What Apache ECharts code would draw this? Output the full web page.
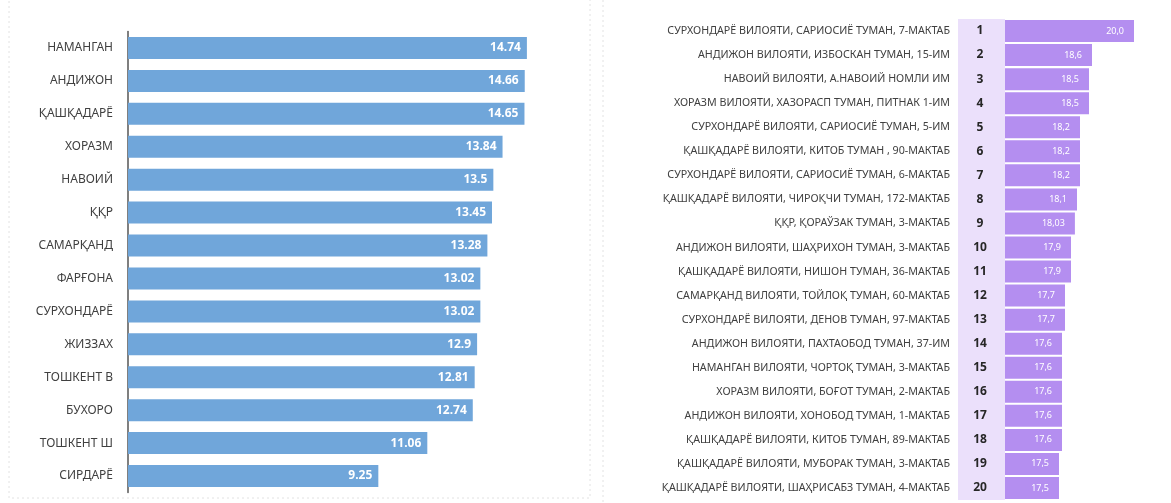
<!DOCTYPE html>
<html>
<head>
<meta charset="utf-8">
<script src="https://cdn.jsdelivr.net/npm/echarts@6/dist/echarts.min.js"></script>
<style>html,body{margin:0;padding:0;background:#fff;}#c{width:1171px;height:503px;}</style>
</head>
<body>
<div id="c"></div>
<script>
const regions = ['НАМАНГАН','АНДИЖОН','ҚАШҚАДАРЁ','ХОРАЗМ','НАВОИЙ','ҚҚР','САМАРҚАНД','ФАРҒОНА','СУРХОНДАРЁ','ЖИЗЗАХ','ТОШКЕНТ В','БУХОРО','ТОШКЕНТ Ш','СИРДАРЁ'];
const regionValues = [14.74,14.66,14.65,13.84,13.5,13.45,13.28,13.02,13.02,12.9,12.81,12.74,11.06,9.25];

const schools = [
 'СУРХОНДАРЁ ВИЛОЯТИ, САРИОСИЁ ТУМАН, 7-МАКТАБ',
 'АНДИЖОН ВИЛОЯТИ, ИЗБОСКАН ТУМАН, 15-ИМ',
 'НАВОИЙ ВИЛОЯТИ, А.НАВОИЙ НОМЛИ ИМ',
 'ХОРАЗМ ВИЛОЯТИ, ХАЗОРАСП ТУМАН, ПИТНАК 1-ИМ',
 'СУРХОНДАРЁ ВИЛОЯТИ, САРИОСИЁ ТУМАН, 5-ИМ',
 'ҚАШҚАДАРЁ ВИЛОЯТИ, КИТОБ ТУМАН , 90-МАКТАБ',
 'СУРХОНДАРЁ ВИЛОЯТИ, САРИОСИЁ ТУМАН, 6-МАКТАБ',
 'ҚАШҚАДАРЁ ВИЛОЯТИ, ЧИРОҚЧИ ТУМАН, 172-МАКТАБ',
 'ҚҚР, ҚОРАЎЗАК ТУМАН, 3-МАКТАБ',
 'АНДИЖОН ВИЛОЯТИ, ШАҲРИХОН ТУМАН, 3-МАКТАБ',
 'ҚАШҚАДАРЁ ВИЛОЯТИ, НИШОН ТУМАН, 36-МАКТАБ',
 'САМАРҚАНД ВИЛОЯТИ, ТОЙЛОҚ ТУМАН, 60-МАКТАБ',
 'СУРХОНДАРЁ ВИЛОЯТИ, ДЕНОВ ТУМАН, 97-МАКТАБ',
 'АНДИЖОН ВИЛОЯТИ, ПАХТАОБОД ТУМАН, 37-ИМ',
 'НАМАНГАН ВИЛОЯТИ, ЧОРТОҚ ТУМАН, 3-МАКТАБ',
 'ХОРАЗМ ВИЛОЯТИ, БОҒОТ ТУМАН, 2-МАКТАБ',
 'АНДИЖОН ВИЛОЯТИ, ХОНОБОД ТУМАН, 1-МАКТАБ',
 'ҚАШҚАДАРЁ ВИЛОЯТИ, КИТОБ ТУМАН, 89-МАКТАБ',
 'ҚАШҚАДАРЁ ВИЛОЯТИ, МУБОРАК ТУМАН, 3-МАКТАБ',
 'ҚАШҚАДАРЁ ВИЛОЯТИ, ШАҲРИСАБЗ ТУМАН, 4-МАКТАБ'
];
const ranks = ['1','2','3','4','5','6','7','8','9','10','11','12','13','14','15','16','17','18','19','20'];
const schoolValues = [20.0,18.6,18.5,18.5,18.2,18.2,18.2,18.1,18.03,17.9,17.9,17.7,17.7,17.6,17.6,17.6,17.6,17.6,17.5,17.5];

const chart = echarts.init(document.getElementById('c'));
const FONT = 'Noto Sans';
chart.setOption({
  animation: false,
  backgroundColor: '#fff',
  graphic: [
    {type:'rect', shape:{x:9, y:-5, width:581, height:503}, style:{fill:'none', stroke:'#e2e2e2', lineWidth:1, lineDash:[2,3]}, z:-10},
    {type:'line', shape:{x1:603, y1:0, x2:603, y2:503}, style:{stroke:'#e2e2e2', lineWidth:1, lineDash:[2,3]}, z:-10},
    {type:'rect', shape:{x:958, y:19, width:47, height:481}, style:{fill:'#ebe0fb'}, z:-5}
  ],
  grid: [
    {left:128, top:31.5, width:433, height:461},
    {left:1005, top:19, width:144, height:481}
  ],
  xAxis: [
    {gridIndex:0, type:'value', min:0, max:16, show:false},
    {gridIndex:1, type:'value', min:15.7, max:20.5, show:false}
  ],
  yAxis: [
    {gridIndex:0, type:'category', data:regions, inverse:true,
     axisLine:{show:true, lineStyle:{color:'#555', width:1.5}}, axisTick:{show:false},
     axisLabel:{color:'#404040', fontSize:12, fontFamily:FONT, margin:15}},
    {gridIndex:1, type:'category', data:schools, inverse:true,
     axisLine:{show:false}, axisTick:{show:false},
     axisLabel:{color:'#404040', fontSize:10.7, fontFamily:FONT, margin:55}},
    {gridIndex:1, type:'category', data:ranks, inverse:true, position:'left',
     axisLine:{show:false}, axisTick:{show:false},
     axisLabel:{color:'#262626', fontSize:12, fontWeight:'bold', fontFamily:FONT, margin:25, align:'center'}}
  ],
  series: [
    {type:'bar', xAxisIndex:0, yAxisIndex:0, data:regionValues, barWidth:22,
     itemStyle:{color:'#70a6da'},
     label:{show:true, position:'insideRight', color:'#fff', fontWeight:'bold', fontSize:12, fontFamily:FONT, distance:6}},
    {type:'bar', xAxisIndex:1, yAxisIndex:1, data:schoolValues, barWidth:22,
     itemStyle:{color:'#b48ef0'},
     label:{show:true, position:'insideRight', color:'#fff', fontSize:9, fontFamily:FONT, distance:10,
       formatter: p => { let s = String(p.value); if (s.indexOf('.') < 0) s += '.0'; return s.replace('.', ','); }}}
  ]
});
</script>
</body>
</html>
